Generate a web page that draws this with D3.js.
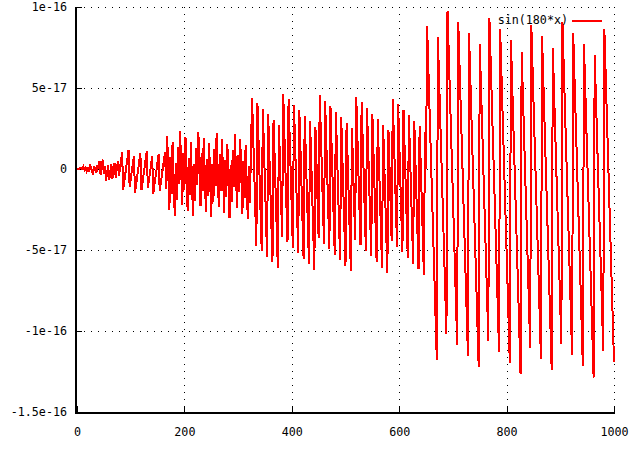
<!DOCTYPE html>
<html><head><meta charset="utf-8">
<script src="https://cdn.jsdelivr.net/npm/d3@7"></script>
<style>html,body{margin:0;padding:0;background:#fff;} svg{display:block;}</style>
</head><body>
<svg id="chart" width="640" height="450"></svg>
<script>
const seriesName = "sin(180*x)";
const xDomain = [0, 1000];
const yDomain = [-1.5e-16, 1e-16];
const sampleStep = 2;          // samples at x = 0, 2, 4, ... 1000
const valueUnit = 1e-18;       // yValues are in units of 1e-18
const yValues = [
0,0.1,0.2,0.7,0.4,0.1,1.5,-0.6,0.8,-1.3,0.1,
-2.0,2.9,0.8,-1.2,-3.3,1.6,-0.5,-2.6,2.3,0.2,
5.1,-3.9,0.9,5.8,-3.2,1.7,-7.3,-2.5,2.4,-6.6,-1.7,3.1,-5.9,-1.0,3.9,-5.2,-0.3,4.6,-4.4,0.4,
5.3,10.2,-12.7,-7.8,-3.0,1.9,6.8,11.6,-11.3,-6.4,-1.5,3.3,8.2,-14.7,-9.8,-4.9,-0.1,4.8,9.7,-13.2,-8.4,-3.5,1.4,6.3,11.1,-11.8,-6.9,-2.0,2.8,7.7,-15.2,-10.3,-5.4,-0.6,4.3,9.2,-13.7,-8.9,-4.0,0.9,5.7,
10.6,-12.3,20.3,-2.5,-25.4,7.2,-15.7,16.9,-6.0,-28.8,3.8,-19.1,13.5,-9.4,23.3,0.4,-22.5,10.1,-12.8,19.8,-3.0,-25.9,6.7,-16.2,16.4,-6.5,-29.3,3.3,-19.6,13.0,-9.9,22.7,-0.1,-23.0,9.6,-13.3,19.3,-3.6,-26.4,6.2,-16.7,15.9,-7.0,-29.9,2.8,-20.1,12.5,-10.4,22.2,-0.6,-23.5,9.1,-13.8,18.8,-4.1,-26.9,5.7,-17.2,15.4,-7.5,-30.4,2.3,-20.6,12.0,-10.9,21.7,-1.2,-24.0,8.6,-14.3,18.3,-4.6,-27.5,5.2,-17.7,14.9,-8.0,-30.9,1.8,-21.1,11.5,
44.1,21.2,-1.7,-24.6,-47.5, 40.7,17.8,-5.1,-28.0,-50.9, 37.3,14.4,-8.5,-31.4,-54.3, 33.9,11.0,-11.9,-34.8,-57.7, 30.5,7.6,-15.3,-38.2,-61.1, 27.0,4.1,-18.8,-41.7,
46.5,23.6,0.7,-22.2,-45.1, 43.1,20.2,-2.7,-25.6,-48.5, 39.7,16.8,-6.1,-29.0,-51.9, 36.3,13.4,-9.5,-32.4,-55.3, 32.9,10.0,-12.9,-35.8,-58.7, 29.4,6.5,-16.4,-39.3,-62.2, 26.0,3.1,-19.8,-42.7,
45.5,22.6,-0.3,-23.2,-46.1, 42.1,19.2,-3.7,-26.6,-49.5, 38.7,15.8,-7.1,-30.0,-52.9, 35.3,12.4,-10.5,-33.4,-56.3, 31.8,8.9,-14.0,-36.9,-59.8, 28.4,5.5,-17.4,-40.3,-63.2, 25.0,2.1,-20.8,-43.7,
44.5,21.6,-1.3,-24.2,-47.1, 41.1,18.2,-4.7,-27.6,-50.5, 37.7,14.8,-8.1,-31.0,-53.9, 34.2,11.3,-11.6,-34.5,-57.4, 30.8,7.9,-15.0,-37.9,-60.8, 27.4,4.5,-18.4,-41.3,-64.2, 24.0,1.1,-21.8,-44.7,
43.5,20.6,-2.3,-25.2,-48.1, 40.1,17.2,-5.7,-28.6,-51.5, 36.6,13.7,-9.2,-32.1,-55.0, 33.2,10.3,-12.6,-35.5,-58.4, 29.8,6.9,-16.0,-38.9,-61.8, 26.4,3.5,-19.4,-42.3,-65.2, 23.0,0.1,
88.2,65.3,42.4,19.5,-3.4,-26.3,-49.2,-72.1,-94.9,-117.8,
81.4,58.5,35.6,12.7,-10.2,-33.1,-56.0,-78.9,-101.7,
97.5,74.6,51.7,28.8,5.9,-17.0,-39.9,-62.7,-85.6,-108.5,
90.6,67.7,44.8,21.9,-1.0,-23.9,-46.8,-69.6,-92.5,-115.4,
83.8,60.9,38.0,15.1,-7.8,-30.7,-53.6,-76.4,-99.3,-122.2,
77.0,54.1,31.2,8.3,-14.6,-37.5,-60.4,-83.2,-106.1,
93.0,70.1,47.2,24.3,1.4,-21.5,-44.4,-67.2,-90.1,-113.0,
86.2,63.3,40.4,17.5,-5.4,-28.3,-51.2,-74.0,-96.9,-119.8,
79.4,56.5,33.6,10.7,-12.2,-35.1,-58.0,-80.8,-103.7,-126.6,
72.5,49.6,26.7,3.8,-19.1,-42.0,-64.9,-87.7,-110.6,
88.6,65.7,42.8,19.9,-3.0,-25.9,-48.8,-71.6,-94.5,-117.4,
81.8,58.9,36.0,13.1,-9.8,-32.7,-55.6,-78.4,-101.3,-124.2,
74.9,52.0,29.1,6.2,-16.7,-39.6,-62.5,-85.3,-108.2,
91.0,68.1,45.2,22.3,-0.6,-23.5,-46.4,-69.2,-92.1,-115.0,
84.2,61.3,38.4,15.5,-7.4,-30.3,-53.2,-76.0,-98.9,-121.8,
77.3,54.4,31.5,8.6,-14.3,-37.2,-60.1,-82.9,-105.8,-128.7,
70.5,47.6,24.7,1.8,-21.1,-44.0,-66.9,-89.7,-112.6,
86.6,63.7,40.8,17.9,-5.0,-27.9,-50.8,-73.6,-96.5,-119.4
];
const xTickValues = [0, 200, 400, 600, 800, 1000];
const xTickLabels = ["0", "200", "400", "600", "800", "1000"];
const yTickValues = [-1.5e-16, -1e-16, -5e-17, 0, 5e-17, 1e-16];
const yTickLabels = ["-1.5e-16", "-1e-16", "-5e-17", "0", "5e-17", "1e-16"];

const data = yValues.map((v, i) => ({x: xDomain[0] + i * sampleStep, y: v * valueUnit}));

const plot = {left: 77, right: 614, top: 7, bottom: 412};
const FONT = "'DejaVu Sans Mono', monospace";
const svg = d3.select("#chart");
svg.append("rect").attr("width", 640).attr("height", 450).attr("fill", "#fff");

const x = d3.scaleLinear().domain(xDomain).range([plot.left, plot.right]);
const y = d3.scaleLinear().domain(yDomain).range([plot.bottom, plot.top]);

// dotted grid
const grid = svg.append("g").attr("stroke", "#000").attr("stroke-width", 1)
  .attr("stroke-dasharray", "1,6").attr("shape-rendering", "crispEdges");
grid.selectAll("line.gy").data(yTickValues.slice(1)).join("line")
  .attr("x1", plot.left).attr("x2", plot.right + 1)
  .attr("y1", d => Math.round(y(d)) + 0.5).attr("y2", d => Math.round(y(d)) + 0.5);
grid.selectAll("line.gx").data(xTickValues.slice(1)).join("line")
  .attr("y1", plot.top).attr("y2", plot.bottom)
  .attr("x1", d => Math.round(x(d)) + 0.5).attr("x2", d => Math.round(x(d)) + 0.5);

// axes (ticks + labels)
const yAxis = d3.axisLeft(y).tickValues(yTickValues)
  .tickFormat((d, i) => yTickLabels[i]).tickSize(-6).tickPadding(9);
const gy = svg.append("g").attr("transform", `translate(${plot.left - 1},0)`).call(yAxis);
const xAxis = d3.axisBottom(x).tickValues(xTickValues)
  .tickFormat((d, i) => xTickLabels[i]).tickSize(-6).tickPadding(16);
const gx = svg.append("g").attr("transform", `translate(0,${plot.bottom})`).call(xAxis);
[gx, gy].forEach(g => {
  g.select(".domain").remove();
  g.selectAll(".tick line").attr("stroke", "#000").attr("shape-rendering", "crispEdges");
  g.selectAll(".tick text").attr("fill", "#000").style("font-family", FONT).style("font-size", "11.7px");
});

// border (left and bottom)
svg.append("path")
  .attr("d", `M${plot.left - 1},${plot.top} V${plot.bottom + 1} H${plot.right + 1}`)
  .attr("fill", "none").attr("stroke", "#000").attr("stroke-width", 2)
  .attr("shape-rendering", "crispEdges");

// series
const line = d3.line().x(d => x(d.x)).y(d => y(d.y));
svg.append("path").datum(data).attr("d", line)
  .attr("fill", "none").attr("stroke", "#ff0000").attr("stroke-width", 2)
  .attr("stroke-linejoin", "miter").attr("shape-rendering", "crispEdges");

// legend
const lg = svg.append("g");
lg.append("text").attr("x", 568).attr("y", 20).attr("dy", "0.35em")
  .attr("text-anchor", "end").style("font-family", FONT).style("font-size", "11.7px")
  .text(seriesName);
lg.append("line").attr("x1", 572).attr("x2", 602).attr("y1", 21).attr("y2", 21)
  .attr("stroke", "#ff0000").attr("stroke-width", 2).attr("shape-rendering", "crispEdges");
</script>
</body></html>
